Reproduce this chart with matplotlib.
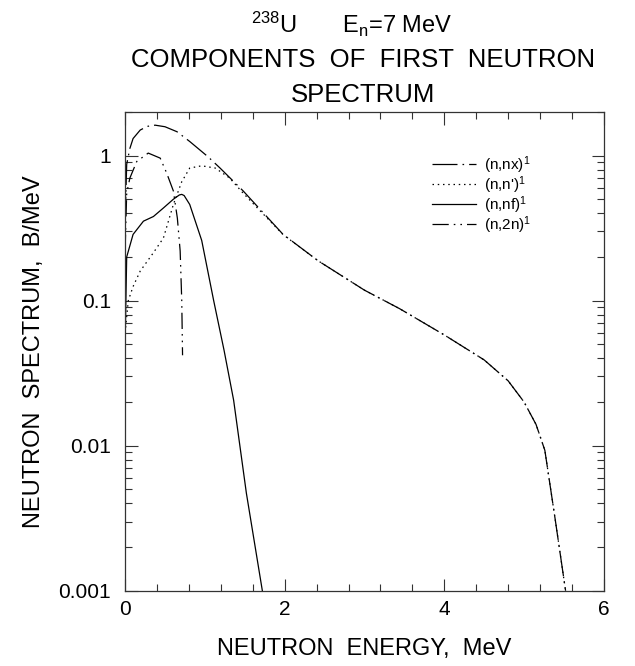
import matplotlib
matplotlib.use("Agg")
import matplotlib.pyplot as plt
from matplotlib.ticker import FixedLocator, MultipleLocator, LogLocator, NullFormatter
import numpy as np

plt.rcParams['font.family'] = ['Liberation Sans', 'DejaVu Sans']
plt.rcParams['mathtext.fontset'] = 'custom'
plt.rcParams['mathtext.rm'] = 'Liberation Sans'
plt.rcParams['mathtext.it'] = 'Liberation Sans'

# first-neutron spectrum components, U-238 at En = 7 MeV (B/MeV vs MeV)
e_nx = [0.0, 0.02, 0.06, 0.10, 0.19, 0.28, 0.376, 0.50, 0.65, 0.81, 1.04, 1.19,
        1.48, 1.98, 2.42, 3.00, 3.44, 4.00, 4.50, 4.80, 5.00, 5.15, 5.26, 5.39, 5.52]
s_nx = [0.35, 0.87, 1.12, 1.31, 1.50, 1.59, 1.62, 1.58, 1.46, 1.25, 0.98, 0.82,
        0.57, 0.286, 0.188, 0.118, 0.088, 0.058, 0.039, 0.028, 0.020, 0.014, 0.0093, 0.0031, 0.001]

e_np = [0.0, 0.04, 0.10, 0.19, 0.355, 0.48, 0.605, 0.71, 0.81, 0.96, 1.13, 1.31,
        1.48, 1.98, 2.42, 3.00, 3.44, 4.00, 4.50, 4.80, 5.00, 5.15, 5.26, 5.39, 5.52]
s_np = [0.06, 0.10, 0.125, 0.16, 0.214, 0.27, 0.46, 0.66, 0.82, 0.85, 0.82, 0.70,
        0.55, 0.285, 0.188, 0.118, 0.088, 0.058, 0.039, 0.028, 0.020, 0.014, 0.0093, 0.0031, 0.001]

e_nf = [0.0, 0.02, 0.10, 0.23, 0.355, 0.48, 0.605, 0.68, 0.71, 0.74, 0.81, 0.96,
        1.11, 1.24, 1.36, 1.52, 1.72]
s_nf = [0.05, 0.20, 0.286, 0.353, 0.38, 0.435, 0.50, 0.535, 0.54, 0.53, 0.46, 0.26,
        0.10, 0.0455, 0.0206, 0.0047, 0.001]

e_2n = [0.0, 0.02, 0.06, 0.146, 0.29, 0.44, 0.52, 0.605, 0.655, 0.69, 0.71, 0.72]
s_2n = [0.22, 0.55, 0.70, 0.91, 1.04, 0.96, 0.76, 0.57, 0.37, 0.22, 0.10, 0.042]

labels = ['(n,nx)$^1$', "(n,n')$^1$", '(n,nf)$^1$', '(n,2n)$^1$']

fig = plt.figure(figsize=(6.35, 6.66), dpi=100)
ax = fig.add_axes([0.197, 0.113, 0.754, 0.719])

lw = 0.9
ax.plot(e_nx, s_nx, color='black', lw=lw, dashes=(20, 4, 1.3, 4), label=labels[0])
ax.plot(e_np, s_np, color='black', lw=lw, dashes=(1.2, 3), label=labels[1])
ax.plot(e_nf, s_nf, color='black', lw=lw, label=labels[2])
ax.plot(e_2n, s_2n, color='black', lw=lw, dashes=(13, 4, 1.3, 4, 1.3, 4), label=labels[3])

ax.set_yscale('log')
ax.set_xlim(0, 6)
ax.set_ylim(0.001, 2)

ax.xaxis.set_major_locator(FixedLocator([0, 2, 4, 6]))
ax.xaxis.set_minor_locator(MultipleLocator(0.4))
ax.yaxis.set_major_locator(FixedLocator([0.001, 0.01, 0.1, 1]))
ax.yaxis.set_minor_locator(LogLocator(base=10, subs=np.arange(2, 10)))
ax.yaxis.set_minor_formatter(NullFormatter())
ax.set_yticklabels(['0.001', '0.01', '0.1', '1'])
ax.set_xticklabels(['0', '2', '4', '6'])

ax.tick_params(which='both', direction='in', top=True, right=True,
               labelsize=15, color='#333333', width=0.8)
ax.tick_params(axis='x', which='major', pad=7)
ax.tick_params(axis='y', which='major', pad=10)
ax.tick_params(which='major', length=9)
ax.tick_params(which='minor', length=5)
for sp in ax.spines.values():
    sp.set_color('#333333')
    sp.set_linewidth(0.9)

ax.set_xlabel('NEUTRON  ENERGY,  MeV', fontsize=17)
ax.set_ylabel('NEUTRON  SPECTRUM,  B/MeV', fontsize=17)
ax.xaxis.set_label_coords(0.5, -0.098)
ax.yaxis.set_label_coords(-0.167, 0.5)

leg = ax.legend(loc='upper left', bbox_to_anchor=(0.641, 0.912), frameon=False,
                fontsize=11, handlelength=2.9, handletextpad=0.5,
                labelspacing=-0.1, borderpad=0, borderaxespad=0)

fig.text(0.554, 0.950, r'$^{238}$U       E$_{\rm n}$=7 MeV', ha='center', va='baseline', fontsize=17)
fig.text(0.571, 0.899, 'COMPONENTS  OF  FIRST  NEUTRON', ha='center', va='baseline', fontsize=18.5)
fig.text(0.571, 0.847, 'SPECTRUM', ha='center', va='baseline', fontsize=18.5)

fig.savefig('out.png', dpi=100)
